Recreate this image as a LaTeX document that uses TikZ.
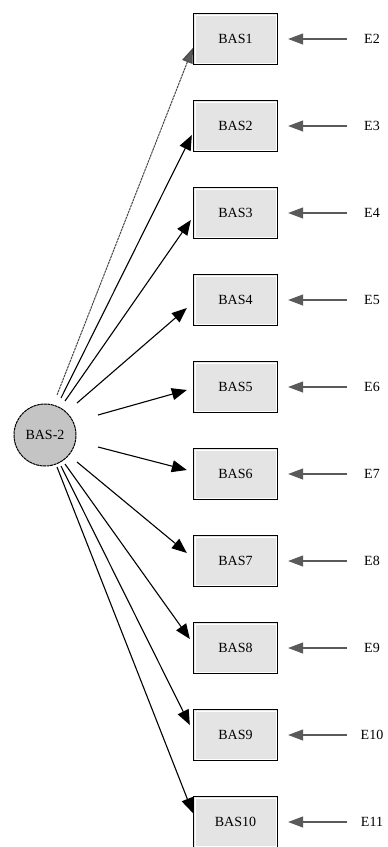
\documentclass[tikz,border=0pt]{standalone}
\usepackage{fontspec}
\setmainfont{Liberation Serif}
\usetikzlibrary{arrows.meta,calc}
\definecolor{boxfill}{HTML}{E4E4E4}
\definecolor{circfill}{HTML}{C4C4C4}
\definecolor{errgray}{HTML}{5A5A5A}
\begin{document}
\begin{tikzpicture}[x=1pt,y=-1pt,
  obsbox/.style={draw=black,line width=1.3pt,fill=boxfill,minimum width=84pt,minimum height=51pt,inner sep=0pt,font=\fontsize{14}{16}\selectfont},
  latent/.style={circle,draw=black,line width=1pt,dash pattern=on 3pt off 0.6pt,fill=circfill,minimum size=62pt,inner sep=0pt,font=\fontsize{14}{16}\selectfont},
  errlab/.style={inner sep=0pt,font=\fontsize{14}{16}\selectfont},
  load/.style={line width=1.1pt,-{Triangle[length=15pt,width=12pt]}},
  fixedload/.style={line width=1pt,draw=errgray!80!black,dash pattern=on 2.5pt off 0.7pt,-{Triangle[length=15pt,width=11pt,fill=errgray]}},
  errarrow/.style={line width=1.1pt,draw=errgray,-{Triangle[length=15pt,width=11pt,fill=errgray]}}
]
\useasboundingbox (0,0) rectangle (388,847);
\node[latent] (lv) at (45,435) {BAS-2};
\foreach \i in {1,...,10}{
  \pgfmathsetmacro{\yy}{39+87*(\i-1)}
  \node[obsbox] (b\i) at (235.5,\yy) {BAS\i};
  \draw[white,line width=0.8pt] ($(b\i.south west)+(2.2,-2.2)$) rectangle ($(b\i.north east)+(-2.2,2.2)$);
  \pgfmathtruncatemacro{\ee}{\i+1}
  \node[errlab] (e\i) at (372,\yy) {E\ee};
  \coordinate (ee\i) at (347,\yy);
  \draw[errarrow] (ee\i) -- ($(b\i.east)+(10,0)$);
}
\coordinate (s1) at (57,395);
\coordinate (s2) at (61,398);
\coordinate (s3) at (65,401);
\coordinate (s4) at (77,403);
\coordinate (s5) at (98,415);
\coordinate (s6) at (98,447);
\coordinate (s7) at (77,462);
\coordinate (s8) at (65,464);
\coordinate (s9) at (61,466);
\coordinate (s10) at (57,467);
\draw[fixedload] (s1) -- ($(b1.west)+(0,9)$);
\draw[load] (s2) -- ($(b2.west)+(-1,9)$);
\draw[load] (s3) -- ($(b3.west)+(-2,7)$);
\draw[load] (s4) -- ($(b4.west)+(-6,8)$);
\draw[load] (s5) -- ($(b5.west)+(-6,3)$);
\draw[load] (s6) -- ($(b6.west)+(-6,-4)$);
\draw[load] (s7) -- ($(b7.west)+(-6,-8)$);
\draw[load] (s8) -- ($(b8.west)+(-3,-9)$);
\draw[load] (s9) -- ($(b9.west)+(-3,-10)$);
\draw[load] (s10) -- ($(b10.west)+(0,-9)$);
\end{tikzpicture}
\end{document}
